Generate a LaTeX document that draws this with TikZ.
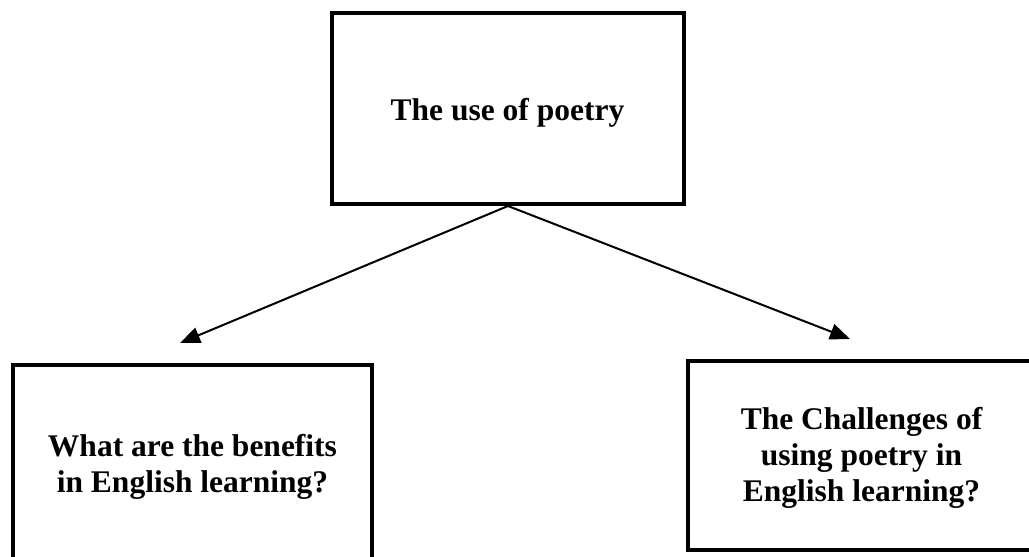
\documentclass[tikz,border=0pt]{standalone}
\usepackage{fontspec}
\setmainfont{Liberation Serif}
\usetikzlibrary{arrows.meta}
\tikzset{
  box/.style={draw=black, line width=4pt, rectangle, inner sep=0pt},
  label/.style={inner sep=0pt, align=center, font=\fontsize{31.5}{36}\selectfont\bfseries},
  conn/.style={draw=black, line width=2pt, -{Triangle[length=20pt,width=16pt]}}
}
\begin{document}
\begin{tikzpicture}[x=1pt,y=-1pt]
\clip (0,0) rectangle (1029,557);
\fill[white] (0,0) rectangle (1029,557);
% boxes
\node[box, minimum width=352pt, minimum height=191pt] (top) at (508,108.5) {};
\node[box, minimum width=359.5pt, minimum height=198pt] (left) at (192.25,464) {};
\node[box, minimum width=347pt, minimum height=189pt] (right) at (861.5,455.5) {};
% texts
\node[label, anchor=base] (toptext) at (507.5,120) {The use of poetry};
\node[label] (lefttext) at (192.5,467) {What are the benefits\\in English learning?};
\node[label] (righttext) at (861.5,457.5) {The Challenges of\\using poetry in\\English learning?};
% connectors
\coordinate (ltip) at (180,343);
\coordinate (rtip) at (850,339);
\draw[conn] (top.south) -- (ltip);
\draw[conn] (top.south) -- (rtip);
\end{tikzpicture}
\end{document}
